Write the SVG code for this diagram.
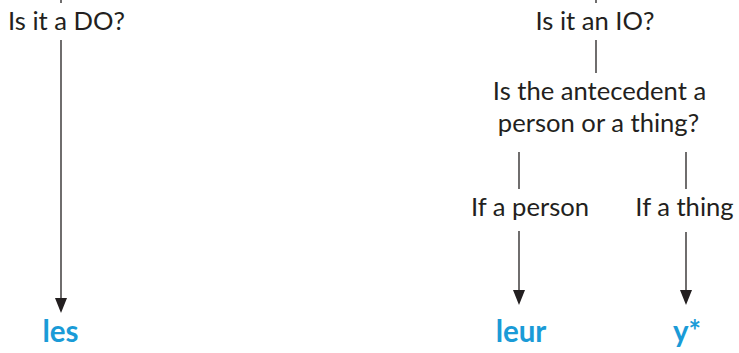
<svg xmlns="http://www.w3.org/2000/svg" width="739" height="353" viewBox="0 0 739 353">
<style>
.t{font-family:Lato,"Open Sans",sans-serif;font-size:25.6px;fill:#231f20;text-anchor:middle}
.a{font-family:Lato,"Open Sans",sans-serif;font-size:29.5px;font-weight:bold;fill:#1a9bd7;text-anchor:middle}
.l{stroke:#231f20;stroke-width:1.3;fill:none}
.h{fill:#231f20}
</style>
<g id="connectors">
<line class="l" x1="61" y1="0" x2="61" y2="3"/>
<line class="l" x1="61" y1="40" x2="61" y2="300"/>
<path class="h" d="M55,298 L67,298 L61,313 Z"/>
<line class="l" x1="596" y1="0" x2="596" y2="3"/>
<line class="l" x1="596" y1="40" x2="596" y2="73"/>
<line class="l" x1="519" y1="152" x2="519" y2="189"/>
<line class="l" x1="686" y1="152" x2="686" y2="189"/>
<line class="l" x1="519" y1="231" x2="519" y2="293"/>
<path class="h" d="M513,290 L525,290 L519,305 Z"/>
<line class="l" x1="686" y1="232" x2="686" y2="293"/>
<path class="h" d="M680,290 L692,290 L686,305 Z"/>
</g>
<g id="q-do"><text class="t" x="66.5" y="30">Is it a DO?</text></g>
<g id="q-io"><text class="t" x="595" y="30">Is it an IO?</text></g>
<g id="q-antecedent"><text class="t" x="599.5" y="100">Is the antecedent a</text><text class="t" x="598.5" y="132">person or a thing?</text></g>
<g id="if-person"><text class="t" x="530" y="216">If a person</text></g>
<g id="if-thing"><text class="t" x="684.5" y="216">If a thing</text></g>
<g id="les"><text class="a" x="60.5" y="342">les</text></g>
<g id="leur"><text class="a" x="521" y="342">leur</text></g>
<g id="y"><text class="a" x="687" y="342">y*</text></g>
</svg>
